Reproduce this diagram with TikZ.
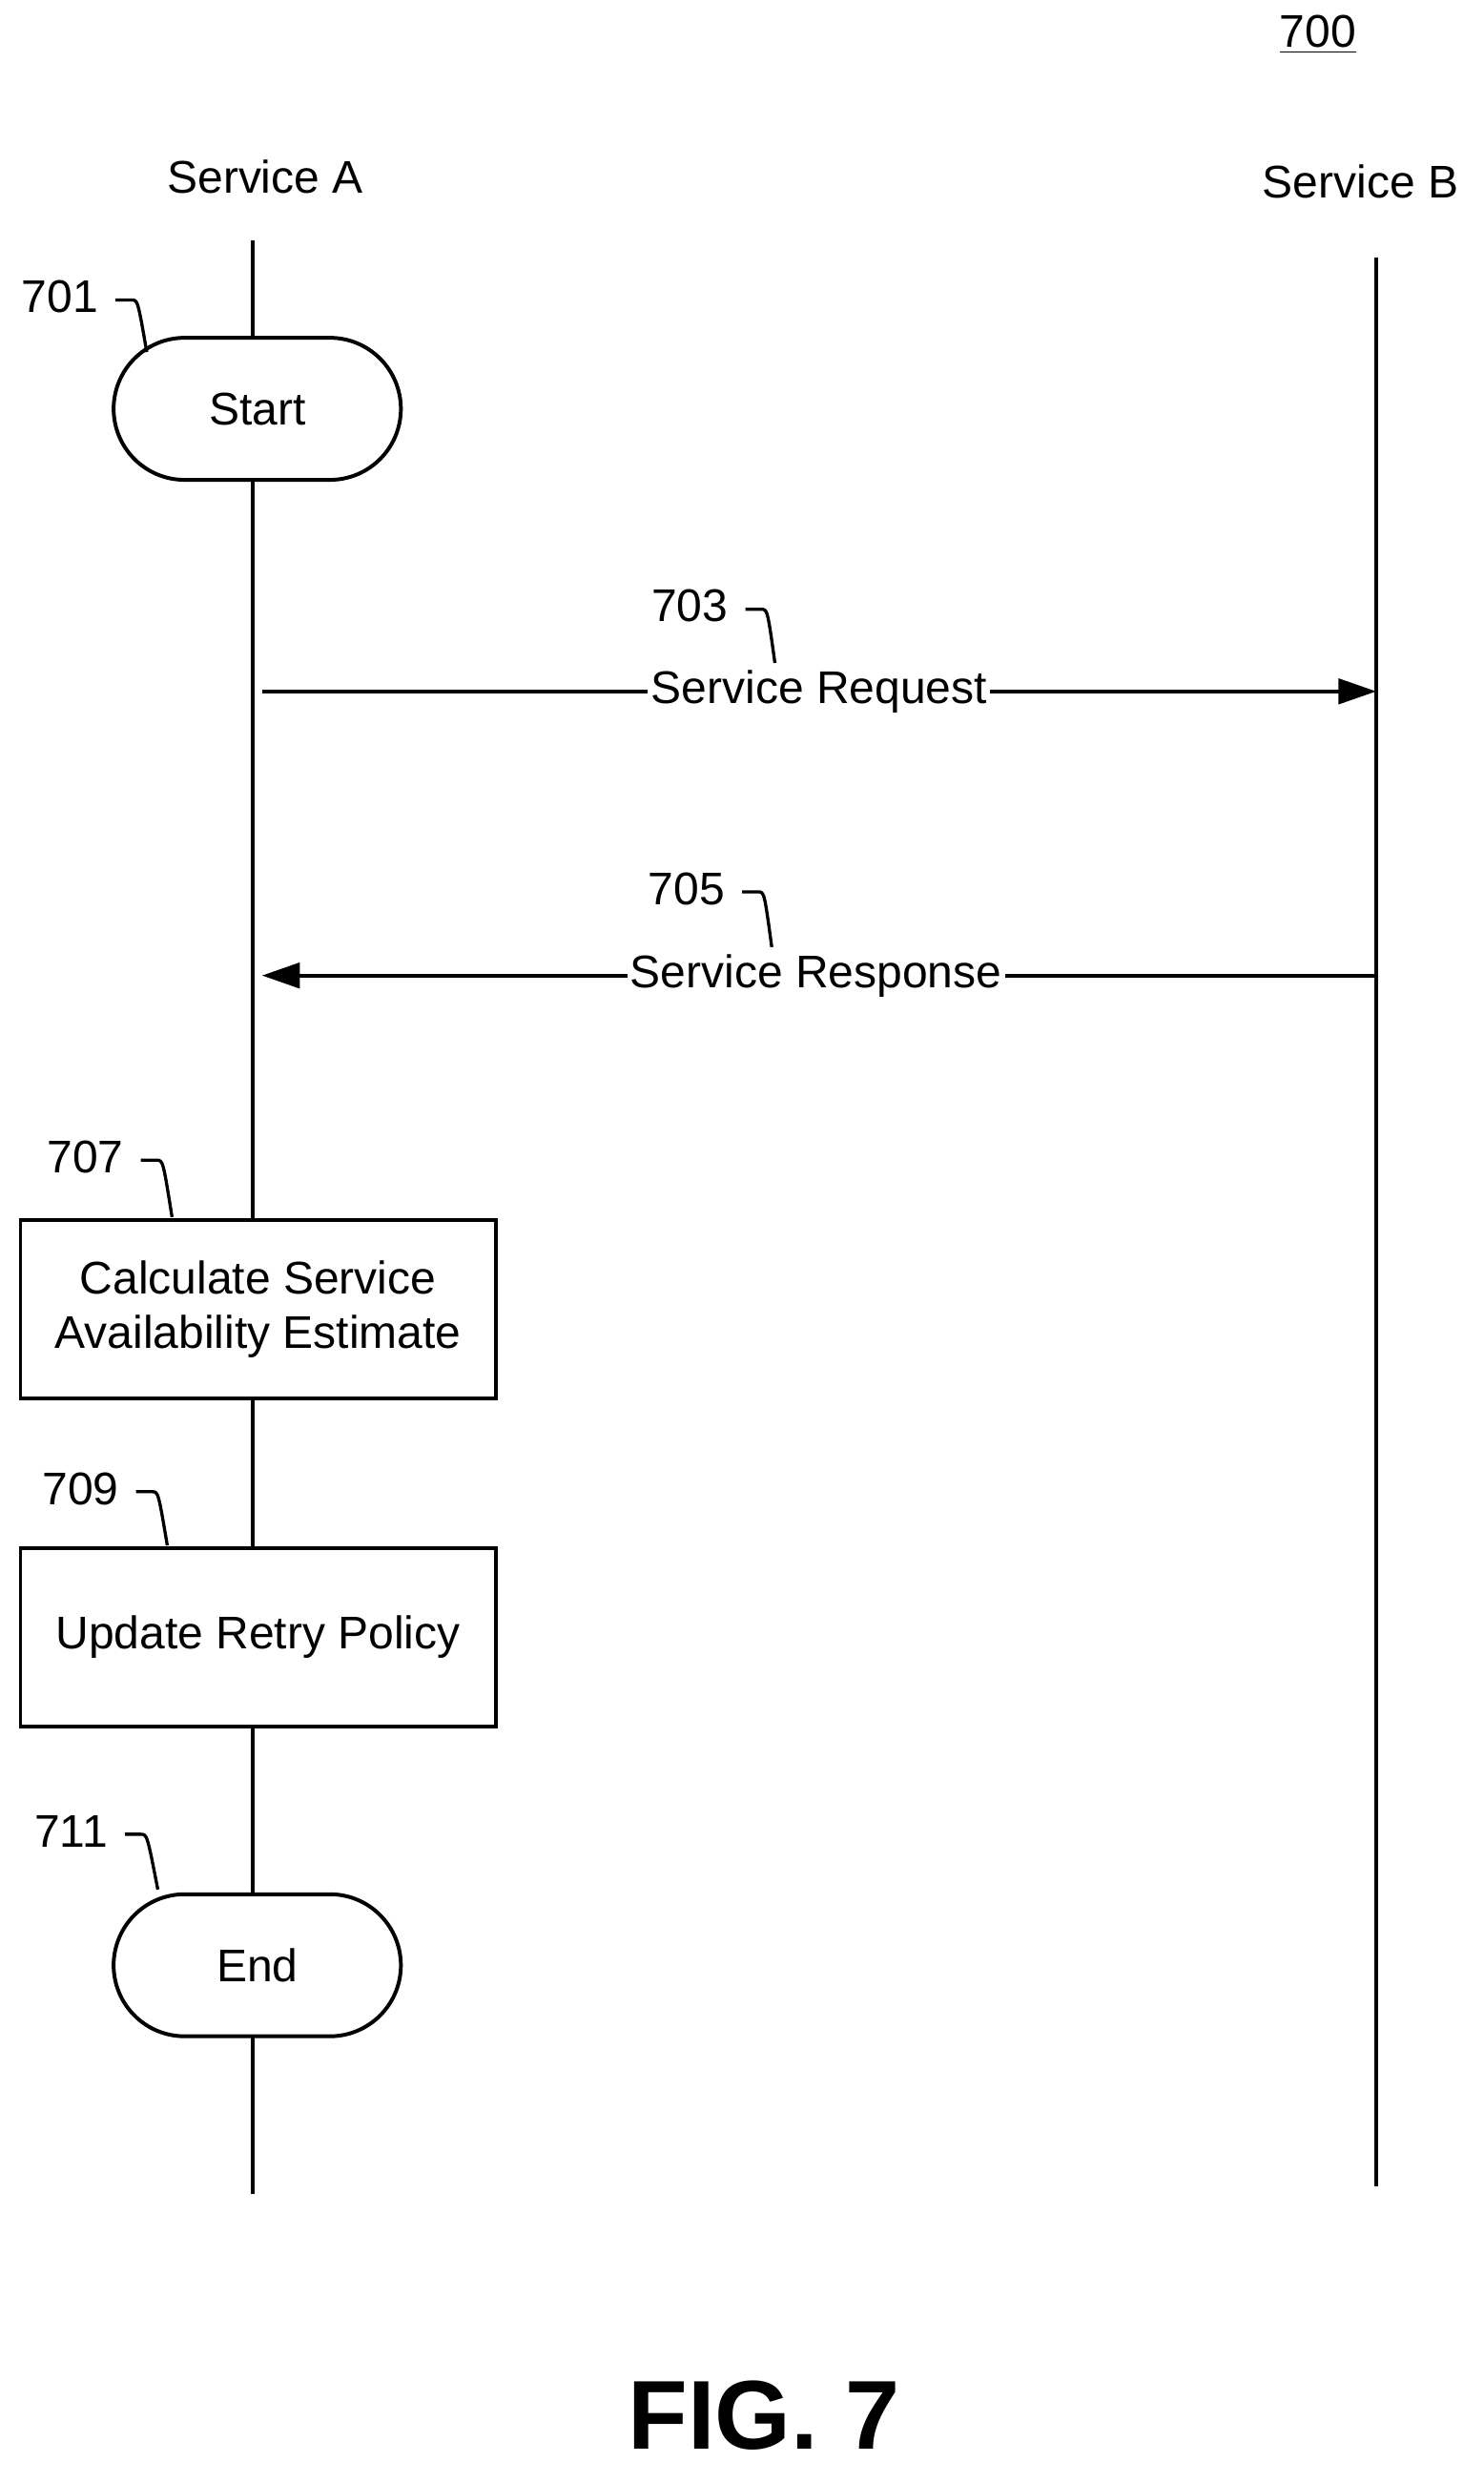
\documentclass[tikz,border=0pt]{standalone}
\usepackage{fontspec}
\setmainfont{Liberation Sans}
\usetikzlibrary{shapes.misc,arrows.meta}
\begin{document}
\begin{tikzpicture}[x=0.5pt,y=-0.5pt,
  every node/.style={font=\fontsize{14.5}{17}\selectfont},
  term/.style={draw,line width=1.2pt,rounded rectangle,minimum width=91pt,minimum height=45pt,fill=white,inner sep=0pt},
  box/.style={draw,line width=1.2pt,rectangle,minimum width=150.5pt,minimum height=56.5pt,fill=white,align=center,inner sep=0pt},
  life/.style={line width=1.2pt},
  msg/.style={line width=1.2pt,-{Triangle[length=12pt,width=8pt]}},
  lbl/.style={fill=white,inner sep=1pt},
  hook/.style={line width=1pt}]
\useasboundingbox (0,0) rectangle (940,1573);
\node (fig) at (835,22) {\underline{700}};
\node (sa) at (168,112) {Service A};
\node (sb) at (862,115) {Service B};
\coordinate (a0) at (160,152); \coordinate (a1) at (160,1390);
\coordinate (b0) at (872,163); \coordinate (b1) at (872,1385);
\draw[life] (a0) -- (a1);
\draw[life] (b0) -- (b1);
\node[term] (start) at (163,259) {Start};
\node[box] (calc) at (163.5,829.5) {Calculate Service\\Availability Estimate};
\node[box] (upd) at (163.5,1037) {Update Retry Policy};
\node[term] (end) at (163,1245) {End};
\coordinate (rq0) at (166,438); \coordinate (rq1) at (872,438);
\coordinate (rs0) at (872,618); \coordinate (rs1) at (166,618);
\draw[msg] (rq0) -- (rq1);
\draw[msg] (rs0) -- (rs1);
\node[lbl] (rql) at (519,438) {Service Request};
\node[lbl] (rsl) at (517,618) {Service Response};
% reference numerals
\node (n701) at (38,188) {701};
\node (n703) at (437,384) {703};
\node (n705) at (435,563) {705};
\node (n707) at (54,733) {707};
\node (n709) at (51,943) {709};
\node (n711) at (45,1160) {711};
\draw[hook] (n701.east)++(4,2) coordinate (h1) -- ++(10,0) .. controls +(4,0) .. (93,223);
\draw[hook] (n703.east)++(4,2) coordinate (h3) -- ++(10,0) .. controls +(4,0) .. (491,420);
\draw[hook] (n705.east)++(4,2) coordinate (h5) -- ++(10,0) .. controls +(4,0) .. (489,600);
\draw[hook] (n707.east)++(4,2) coordinate (h7) -- ++(10,0) .. controls +(4,0) .. (109,771);
\draw[hook] (n709.east)++(4,2) coordinate (h9) -- ++(10,0) .. controls +(4,0) .. (106,979);
\draw[hook] (n711.east)++(4,2) coordinate (h11) -- ++(10,0) .. controls +(4,0) .. (100,1197);
\node[font=\fontsize{31}{36}\bfseries\selectfont] (cap) at (484,1530) {FIG. 7};
\end{tikzpicture}
\end{document}
